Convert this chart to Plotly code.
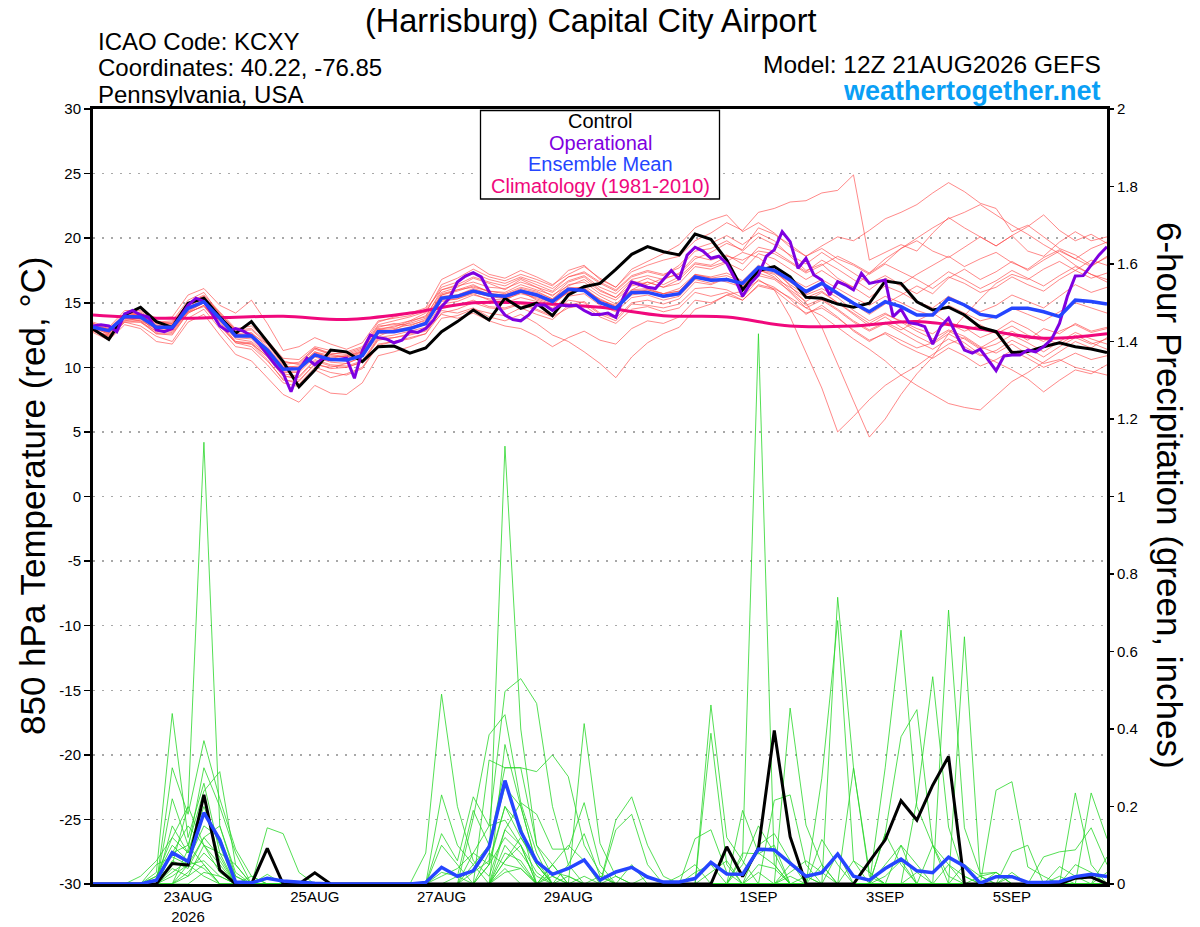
import plotly.graph_objects as go
import pandas as pd

# ---------------- time axes ----------------
T_START = "2026-08-21 12:00"
T_END = "2026-09-06 12:00"
times_6h = pd.date_range(T_START, periods=65, freq="6h")
times_3h = pd.date_range(T_START, periods=129, freq="3h")
times_clim = pd.date_range(T_START, periods=17, freq="24h")

tick_dates = ["2026-08-23", "2026-08-25", "2026-08-27", "2026-08-29",
              "2026-09-01", "2026-09-03", "2026-09-05"]
tick_labels = ["23AUG<br>2026", "25AUG", "27AUG", "29AUG", "1SEP", "3SEP", "5SEP"]

temp_ticks = [-30, -25, -20, -15, -10, -5, 0, 5, 10, 15, 20, 25, 30]
temp_tick_labels = ["-30", "-25", "-20", "-15", "-10", "-5", "0", "5", "10", "15", "20", "25", "30"]
prcp_ticks = [0, 0.2, 0.4, 0.6, 0.8, 1.0, 1.2, 1.4, 1.6, 1.8, 2.0]
prcp_tick_labels = ["0", "0.2", "0.4", "0.6", "0.8", "1", "1.2", "1.4", "1.6", "1.8", "2"]

# ---------------- 850 hPa temperature (deg C) ----------------
control_temp = [12.97, 12.17, 14.05, 14.65, 13.54, 13.1, 14.96, 15.35, 13.9, 12.63, 13.54, 11.99, 10.44,
                8.5, 9.8, 11.34, 11.2, 10.44, 11.6, 11.65, 11.1, 11.5, 12.76, 13.54, 14.44, 13.67,
                15.35, 14.57, 14.96, 14.0, 15.6, 16.24, 16.5, 17.59, 18.75, 19.34, 18.95, 18.7, 20.32,
                19.91, 18.3, 16.0, 17.5, 17.8, 17.0, 15.42, 15.35, 14.9, 14.65, 14.96, 16.68, 16.5,
                15.08, 14.44, 14.65, 14.05, 13.1, 12.76, 11.14, 11.22, 11.6, 11.9, 11.6, 11.42, 11.14]

mean_temp = [13.1, 12.84, 13.93, 13.9, 13.1, 13.1, 14.57, 15.08, 13.8, 12.43, 12.43, 11.34, 9.85,
             9.9, 10.96, 10.6, 10.56, 10.9, 12.76, 12.76, 13.0, 13.4, 15.35, 15.5, 15.9, 15.6,
             15.5, 15.9, 15.6, 15.1, 16.04, 15.95, 15.0, 14.57, 15.8, 15.8, 15.5, 15.7, 17.0,
             16.75, 16.8, 16.5, 17.74, 17.5, 16.76, 15.86, 16.5, 15.7, 14.96, 14.3, 15.08, 14.7,
             14.05, 14.05, 15.35, 14.83, 14.1, 13.9, 14.57, 14.57, 14.3, 13.93, 15.2, 15.1, 14.9]

operational_temp = [13.2, 13.3, 13.2, 12.76, 14.13, 14.4, 14.05, 13.9, 12.9, 12.76, 13.0, 13.9, 14.8,
                    15.35, 15.1, 14.2, 13.2, 12.8, 13.0, 12.8, 12.43, 11.8, 10.96, 10.2, 9.54, 8.11,
                    9.8, 10.7, 10.2, 10.7, 10.6, 10.6, 10.7, 9.15, 11.3, 12.5, 12.3, 12.2, 11.9,
                    12.1, 12.8, 12.7, 13.0, 13.67, 14.7, 15.35, 16.6, 17.07, 17.33, 17.0, 15.86, 14.83,
                    14.05, 13.7, 13.6, 14.05, 14.83, 14.83, 14.4, 14.83, 14.75, 14.8, 14.4, 14.1,
                    14.1, 14.2, 13.87, 15.5, 16.6, 16.4, 16.2, 16.1, 16.8, 17.5, 16.8, 18.7, 19.3,
                    19.0, 18.44, 18.6, 18.05, 16.9, 15.5, 16.5, 17.15, 18.6, 19.1, 20.5, 19.73, 17.67,
                    18.44, 17.15, 16.76, 15.6, 16.63, 16.37, 15.99, 17.28, 16.5, 16.63, 16.76, 13.93,
                    14.5, 13.46, 13.36, 13.15, 11.8, 13.15, 13.8, 12.5, 11.34, 11.1, 11.4, 10.57, 9.74,
                    10.88, 10.96, 10.96, 11.34, 11.2, 11.6, 12.17, 13.4, 15.5, 17.07, 17.1, 17.9,
                    18.7, 19.34]

climatology_temp = [14.05, 13.8, 13.85, 13.95, 13.7, 14.2, 15.0, 14.95, 14.65, 14.0, 13.9,
                    13.2, 13.2, 13.55, 12.95, 12.25, 12.6]

temp_m01 = [13.3, 12.6, 14.2, 14.0, 13.5, 13.6, 15.2, 15.8, 14.1, 12.9, 12.6, 11.8, 10.5,
            10.2, 11.4, 11.0, 11.2, 11.6, 13.5, 13.9, 14.2, 14.6, 16.8, 17.4, 18.0, 17.2,
            16.9, 17.5, 17.0, 16.4, 17.2, 17.8, 16.9, 16.2, 17.4, 17.9, 18.3, 18.6, 19.8,
            20.4, 21.2, 20.6, 22.0, 22.3, 22.8, 22.9, 23.5, 23.7, 24.9, 18.3, 18.9, 19.5,
            19.0, 20.4, 21.6, 20.8, 20.1, 19.4, 20.2, 19.0, 18.6, 19.7, 20.5, 19.8, 20.1]
temp_m02 = [12.9, 12.4, 13.6, 13.5, 12.8, 12.7, 14.3, 15.0, 13.5, 12.0, 11.8, 10.9, 9.4,
            9.0, 10.2, 10.0, 10.3, 10.8, 12.4, 12.9, 13.5, 14.0, 15.8, 16.2, 16.9, 16.5,
            16.0, 16.8, 16.2, 15.5, 16.6, 17.0, 16.0, 15.4, 16.7, 16.4, 16.9, 17.2, 18.4,
            18.9, 19.6, 19.1, 20.8, 20.3, 19.5, 18.6, 19.4, 20.1, 19.8, 20.6, 21.5, 22.0,
            22.6, 23.5, 24.3, 23.6, 22.7, 22.3, 20.5, 21.0, 20.1, 19.2, 18.7, 17.9, 18.5]
temp_m03 = [13.0, 12.2, 13.5, 13.2, 12.4, 12.0, 13.8, 14.5, 13.0, 11.6, 11.4, 10.2, 8.8,
            8.5, 9.8, 9.2, 9.5, 10.0, 11.8, 12.0, 12.3, 12.6, 14.6, 14.8, 15.2, 14.7,
            14.6, 15.0, 14.5, 14.0, 15.2, 15.0, 14.1, 13.6, 14.9, 14.8, 14.6, 14.9, 16.1,
            16.2, 16.0, 15.4, 16.8, 16.0, 13.9, 11.2, 8.4, 5.0, 6.2, 7.5, 8.6, 9.4,
            10.1, 11.0, 11.8, 12.3, 11.5, 12.2, 12.8, 12.1, 13.0, 12.6, 13.4, 12.8, 13.1]
temp_m04 = [13.4, 12.9, 14.1, 14.3, 13.6, 13.3, 14.9, 15.4, 14.2, 12.8, 12.9, 11.8, 10.2,
            10.4, 11.5, 11.0, 10.8, 11.2, 12.9, 13.2, 13.4, 13.8, 15.6, 16.0, 16.4, 15.8,
            15.3, 15.9, 15.2, 14.8, 15.9, 16.3, 15.5, 14.9, 16.0, 16.6, 16.2, 16.8, 18.0,
            17.8, 18.2, 18.9, 18.5, 17.6, 16.3, 15.0, 13.1, 10.2, 7.4, 4.6, 6.0, 7.9,
            9.5, 10.8, 12.6, 14.0, 15.3, 16.5, 17.2, 16.8, 17.6, 18.2, 17.5, 18.3, 17.9]
temp_m05 = [13.2, 13.0, 14.0, 14.1, 13.3, 13.2, 14.8, 15.3, 14.0, 12.6, 12.7, 11.6, 10.1,
            10.0, 11.2, 10.9, 10.8, 11.1, 13.0, 13.1, 13.6, 14.2, 16.4, 16.9, 17.6, 17.0,
            16.7, 17.2, 16.8, 16.3, 17.5, 17.9, 16.8, 16.2, 17.6, 18.2, 18.8, 19.5, 20.8,
            21.4, 21.8, 20.5, 21.2, 20.4, 19.3, 18.6, 19.2, 18.4, 17.9, 17.2, 18.0, 17.4,
            16.8, 16.1, 17.0, 16.5, 15.8, 16.2, 17.0, 16.4, 15.9, 16.8, 17.5, 16.9, 17.3]
temp_m06 = [12.8, 12.3, 13.7, 13.6, 12.6, 12.5, 14.2, 14.8, 13.2, 11.9, 11.8, 10.6, 9.0,
            8.9, 10.3, 9.9, 10.0, 10.4, 12.1, 12.3, 12.5, 12.8, 14.4, 14.2, 14.6, 13.9,
            13.6, 14.1, 13.4, 12.5, 12.0, 11.2, 10.3, 9.2, 10.8, 11.9, 12.6, 13.1, 14.5,
            14.9, 15.6, 15.9, 16.7, 16.2, 15.3, 14.1, 14.8, 13.9, 12.8, 12.0, 12.7, 12.1,
            11.5, 11.9, 12.8, 12.2, 11.4, 11.8, 12.5, 11.9, 11.2, 12.0, 12.7, 12.2, 11.8]
temp_m07 = [12.7, 12.1, 13.3, 13.0, 12.0, 11.8, 13.5, 14.1, 12.5, 11.0, 10.5, 9.2, 7.9,
            7.3, 8.6, 8.0, 7.9, 8.8, 10.9, 11.2, 11.6, 12.1, 13.8, 14.0, 14.5, 14.2,
            14.0, 14.6, 14.1, 13.7, 14.8, 15.1, 14.2, 13.8, 15.0, 15.2, 14.9, 15.3, 16.6,
            16.4, 16.9, 16.3, 17.5, 17.2, 16.0, 15.1, 15.8, 15.0, 14.2, 13.4, 14.1, 13.6,
            13.0, 12.6, 13.5, 13.1, 12.3, 12.8, 13.6, 13.0, 12.2, 11.8, 12.5, 11.9, 11.4]
temp_m08 = [13.5, 13.1, 14.4, 14.4, 13.8, 13.9, 15.6, 16.1, 14.8, 14.2, 15.2, 13.4, 11.3,
            11.6, 12.3, 11.8, 11.4, 11.9, 13.6, 13.8, 14.0, 14.5, 16.0, 16.4, 17.0, 16.6,
            16.3, 16.9, 16.4, 15.9, 17.0, 17.3, 16.5, 15.9, 17.0, 17.4, 17.1, 17.9, 19.2,
            19.6, 20.2, 19.5, 20.4, 19.8, 18.6, 17.5, 18.0, 16.9, 16.2, 15.4, 16.3, 15.8,
            15.1, 14.6, 15.5, 14.9, 14.3, 14.8, 15.6, 15.1, 14.6, 15.5, 16.4, 15.8, 16.2]
temp_m09 = [13.1, 12.9, 13.8, 14.0, 13.0, 13.0, 14.5, 15.0, 13.7, 12.3, 12.2, 11.0, 9.6,
            9.6, 10.8, 10.4, 10.3, 10.8, 12.6, 12.7, 12.9, 13.4, 15.2, 15.3, 15.7, 15.2,
            15.0, 15.4, 15.1, 14.6, 15.5, 15.7, 14.8, 14.3, 15.4, 15.6, 15.2, 15.5, 16.8,
            16.5, 16.9, 16.1, 17.3, 16.9, 16.2, 15.4, 15.9, 15.0, 14.1, 13.2, 13.9, 13.1,
            12.4, 11.8, 12.6, 11.9, 11.0, 10.4, 9.8, 9.1, 8.1, 9.0, 9.8, 9.5, 10.2]
temp_m10 = [13.0, 12.7, 13.9, 13.8, 13.2, 13.4, 14.9, 15.5, 14.0, 12.6, 12.4, 11.5, 10.0,
            10.1, 11.2, 10.7, 10.9, 11.3, 13.1, 13.4, 13.2, 13.7, 15.7, 16.0, 16.2, 15.9,
            15.8, 16.4, 16.0, 15.6, 16.3, 16.8, 15.9, 15.4, 16.4, 16.9, 16.4, 17.0, 18.1,
            17.9, 18.6, 18.3, 19.0, 18.8, 18.1, 17.3, 17.9, 18.6, 18.0, 17.3, 18.4, 19.2,
            19.8, 19.0, 18.5, 19.3, 20.1, 19.4, 20.2, 20.9, 21.8, 20.6, 19.8, 20.3, 19.6]
temp_m11 = [13.2, 12.5, 13.9, 13.7, 12.9, 12.8, 14.4, 15.0, 13.6, 12.2, 12.0, 11.0, 9.5,
            9.3, 10.6, 10.2, 10.1, 10.5, 12.3, 12.5, 12.8, 13.1, 14.9, 15.1, 15.6, 15.3,
            15.2, 15.8, 15.3, 14.9, 15.8, 16.0, 15.3, 14.7, 15.7, 16.0, 15.7, 16.1, 17.2,
            17.0, 17.3, 16.7, 17.9, 17.4, 16.4, 15.6, 16.1, 15.4, 14.4, 13.6, 14.2, 13.5,
            12.8, 12.2, 12.9, 12.4, 11.6, 11.1, 11.8, 11.0, 10.3, 10.6, 10.0, 9.7, 9.4]
temp_m12 = [13.3, 12.8, 14.0, 13.9, 13.1, 13.0, 14.6, 15.2, 13.9, 12.5, 12.6, 11.4, 10.0,
            9.8, 11.0, 10.7, 10.6, 11.0, 12.8, 12.9, 13.1, 13.5, 15.4, 15.6, 16.0, 15.7,
            15.6, 16.0, 15.7, 15.2, 16.1, 16.2, 15.2, 14.8, 15.9, 16.0, 15.7, 15.9, 17.1,
            16.9, 17.1, 16.6, 17.6, 17.0, 15.8, 14.6, 14.0, 13.1, 12.2, 11.4, 10.5, 9.4,
            8.6, 7.9, 7.2, 6.9, 6.7, 7.8, 8.9, 9.6, 10.4, 11.2, 12.0, 11.5, 12.3]
temp_m13 = [13.0, 12.9, 14.1, 14.2, 13.4, 13.5, 15.0, 15.6, 14.3, 13.0, 13.2, 12.1, 10.7,
            10.6, 11.6, 11.3, 11.1, 11.5, 13.3, 13.6, 13.9, 14.3, 16.2, 16.6, 17.3, 16.8,
            16.5, 17.0, 16.6, 16.1, 17.0, 17.4, 16.6, 16.0, 17.1, 17.5, 17.2, 17.7, 19.0,
            19.2, 19.8, 19.0, 20.1, 19.5, 18.7, 18.0, 18.9, 18.1, 17.3, 16.5, 17.1, 16.4,
            17.2, 17.9, 18.6, 17.8, 18.4, 18.9, 18.1, 17.6, 18.5, 19.1, 18.4, 17.8, 18.6]
temp_m14 = [12.9, 12.4, 13.6, 13.8, 12.7, 12.9, 14.3, 14.7, 13.3, 11.9, 11.6, 10.5, 9.1,
            8.7, 10.0, 9.6, 9.4, 9.9, 11.7, 12.0, 12.2, 12.6, 14.2, 14.5, 15.0, 14.6,
            14.5, 14.9, 14.4, 13.9, 14.6, 14.8, 13.9, 13.4, 14.5, 14.7, 14.3, 14.6, 15.8,
            15.5, 15.8, 15.2, 16.3, 16.0, 15.0, 14.2, 14.6, 13.8, 12.9, 12.1, 12.6, 11.8,
            11.2, 10.7, 11.5, 10.9, 10.1, 10.6, 11.3, 10.7, 10.0, 10.5, 11.1, 10.6, 10.9]
temp_m15 = [13.1, 12.7, 13.8, 13.6, 13.0, 12.9, 14.5, 15.0, 13.7, 12.4, 12.3, 11.1, 9.7,
            9.7, 10.9, 10.5, 10.6, 11.0, 12.7, 12.8, 13.0, 13.3, 15.1, 15.3, 15.8, 15.5,
            15.3, 15.7, 15.4, 15.0, 15.8, 16.1, 15.1, 14.6, 15.6, 15.8, 15.4, 15.6, 16.9,
            16.7, 16.9, 16.3, 17.4, 17.6, 16.9, 16.2, 16.8, 16.1, 15.4, 14.8, 15.5, 15.0,
            14.4, 14.0, 14.8, 14.2, 13.6, 13.9, 14.6, 14.1, 13.6, 14.3, 15.0, 14.6, 14.2]
temp_m16 = [13.2, 12.9, 14.0, 14.0, 13.2, 13.1, 14.7, 15.2, 13.9, 12.5, 12.4, 11.3, 9.8,
            9.9, 11.1, 10.6, 10.5, 10.9, 12.7, 12.8, 13.0, 13.4, 15.3, 15.4, 15.8, 15.5,
            15.4, 15.8, 15.5, 15.0, 15.9, 16.0, 15.0, 14.5, 15.7, 15.8, 15.5, 15.7, 17.0,
            16.8, 16.8, 16.4, 17.6, 17.3, 16.6, 15.7, 16.4, 15.6, 14.9, 14.1, 14.9, 15.6,
            16.3, 15.7, 16.9, 17.6, 16.8, 17.4, 18.2, 17.5, 18.3, 19.0, 18.4, 19.2, 19.7]
temp_m17 = [13.0, 12.6, 13.9, 13.9, 13.0, 13.2, 14.6, 15.1, 13.8, 12.4, 12.5, 11.4, 9.9,
            10.0, 11.0, 10.6, 10.7, 11.0, 12.8, 12.7, 13.1, 13.3, 15.5, 15.6, 16.1, 15.7,
            15.6, 16.1, 15.8, 15.3, 16.2, 16.1, 15.2, 14.7, 16.0, 16.1, 15.7, 15.9, 17.2,
            16.9, 16.6, 16.2, 17.1, 16.8, 15.9, 14.8, 15.3, 14.5, 13.6, 12.9, 13.5, 12.9,
            13.6, 14.2, 13.4, 12.8, 13.3, 12.6, 13.2, 12.5, 12.0, 12.8, 13.3, 12.7, 13.0]
temp_m18 = [13.4, 13.0, 14.2, 14.2, 13.5, 13.4, 15.0, 15.5, 14.2, 12.9, 13.0, 11.9, 10.4,
            10.3, 11.5, 11.1, 11.0, 11.4, 13.2, 13.3, 13.6, 13.9, 16.0, 16.3, 16.6, 16.2,
            16.1, 16.6, 16.2, 15.8, 16.7, 17.1, 16.2, 15.7, 16.8, 17.1, 16.8, 17.3, 18.6,
            18.3, 18.7, 18.0, 19.3, 19.0, 18.2, 17.4, 18.3, 17.6, 16.8, 16.0, 16.9, 16.3,
            15.7, 16.5, 17.4, 16.8, 16.1, 16.7, 17.5, 16.9, 16.3, 17.1, 17.8, 17.2, 16.8]
temp_m19 = [12.8, 12.5, 13.5, 13.5, 12.6, 12.6, 14.2, 14.8, 13.3, 12.0, 11.9, 10.8, 9.3,
            9.2, 10.5, 10.1, 10.0, 10.4, 12.2, 12.3, 12.6, 12.9, 14.1, 13.8, 14.2, 13.6,
            13.2, 13.0, 12.4, 11.6, 12.3, 12.8, 12.1, 11.8, 13.0, 13.6, 13.4, 13.9, 15.2,
            15.0, 15.6, 15.2, 16.4, 16.1, 15.4, 14.6, 15.2, 14.4, 13.5, 12.8, 13.4, 12.7,
            12.0, 11.4, 12.2, 11.6, 10.9, 11.3, 12.1, 11.5, 10.8, 11.6, 12.3, 11.8, 12.2]
temp_m20 = [13.2, 12.8, 14.0, 14.1, 13.2, 13.0, 14.6, 15.1, 13.9, 12.5, 12.4, 11.4, 10.0,
            9.9, 11.1, 10.8, 10.9, 11.2, 12.9, 13.0, 13.3, 13.6, 15.6, 15.9, 16.3, 15.9,
            15.7, 16.2, 15.9, 15.3, 16.4, 16.6, 15.7, 15.2, 16.3, 16.6, 16.2, 16.5, 17.8,
            17.6, 18.1, 17.5, 18.8, 18.4, 17.6, 16.8, 17.5, 16.7, 16.2, 17.3, 18.1, 19.2,
            20.0, 20.8, 21.5, 22.0, 22.6, 21.8, 21.0, 20.3, 19.5, 18.8, 17.9, 17.2, 16.6]

temp_members = [temp_m01, temp_m02, temp_m03, temp_m04, temp_m05, temp_m06, temp_m07,
                temp_m08, temp_m09, temp_m10, temp_m11, temp_m12, temp_m13, temp_m14,
                temp_m15, temp_m16, temp_m17, temp_m18, temp_m19, temp_m20]

# ---------------- 6-hour precipitation (inches) ----------------
control_prcp = [0, 0, 0, 0, 0, 0.053, 0.049, 0.23, 0.036, 0, 0, 0.092, 0,
                0, 0.029, 0, 0, 0, 0, 0, 0, 0, 0, 0, 0, 0,
                0, 0, 0, 0, 0, 0, 0, 0, 0, 0, 0, 0, 0,
                0, 0.096, 0.019, 0.092, 0.396, 0.122, 0, 0, 0, 0, 0.058, 0.114, 0.215,
                0.165, 0.255, 0.329, 0, 0, 0, 0, 0, 0, 0, 0.015, 0.018, 0]

mean_prcp = [0, 0, 0, 0, 0.01, 0.081, 0.058, 0.184, 0.114, 0.005, 0.003, 0.015, 0.008,
             0.004, 0.002, 0, 0, 0, 0, 0, 0, 0.004, 0.043, 0.02, 0.034, 0.096,
             0.267, 0.135, 0.058, 0.025, 0.04, 0.062, 0.01, 0.031, 0.043, 0.018, 0.005, 0.005, 0.014,
             0.056, 0.026, 0.025, 0.09, 0.088, 0.053, 0.02, 0.029, 0.077, 0.02, 0.01, 0.04, 0.064,
             0.034, 0.029, 0.069, 0.046, 0.002, 0.019, 0.019, 0.004, 0.004, 0.006, 0.019, 0.025, 0.019]

# members: non-zero 6-h totals keyed by 6-hour step (all other steps are 0)
prcp_m01 = {3: 0.02, 4: 0.06, 5: 0.12, 6: 0.2, 7: 1.14, 8: 0.15, 9: 0.02, 22: 0.23, 23: 0.1, 24: 0.05,
            26: 0.36, 27: 0.2, 28: 0.05, 44: 0.05, 45: 0.02, 51: 0.1, 52: 0.05}
prcp_m02 = {4: 0.03, 5: 0.44, 6: 0.12, 7: 0.26, 8: 0.08, 21: 0.08, 22: 0.49, 23: 0.2, 24: 0.06, 25: 0.02,
            26: 0.14, 27: 0.1, 29: 0.02, 42: 0.1, 43: 0.13, 44: 0.06, 58: 0.03}
prcp_m03 = {5: 0.3, 6: 0.18, 7: 0.37, 8: 0.22, 9: 0.09, 10: 0.02, 25: 0.05, 26: 1.13, 27: 0.4, 28: 0.1,
            29: 0.05, 31: 0.02, 41: 0.19, 42: 0.08, 43: 0.05, 47: 0.74, 48: 0.3, 49: 0.03, 57: 0.03}
prcp_m04 = {5: 0.22, 6: 0.1, 7: 0.24, 8: 0.29, 9: 0.05, 24: 0.08, 25: 0.15, 26: 0.497, 27: 0.53,
            28: 0.466, 29: 0.2, 30: 0.05, 33: 0.02, 41: 0.07, 42: 1.42, 43: 0.05, 50: 0.02, 51: 0.06}
prcp_m05 = {5: 0.15, 6: 0.08, 7: 0.2, 8: 0.1, 11: 0.145, 12: 0.13, 13: 0.03, 24: 0.17, 25: 0.385,
            26: 0.437, 27: 0.21, 28: 0.08, 30: 0.02, 44: 0.454, 45: 0.152, 46: 0.05, 54: 0.05, 55: 0.02}
prcp_m06 = {6: 0.05, 7: 0.12, 8: 0.07, 11: 0.025, 25: 0.32, 26: 0.3, 27: 0.3, 28: 0.29, 29: 0.333,
            30: 0.277, 31: 0.1, 32: 0.03, 46: 0.273, 47: 0.68, 48: 0.06, 50: 0.3, 51: 0.655, 52: 0.2, 53: 0.1}
prcp_m07 = {4: 0.02, 5: 0.1, 6: 0.06, 7: 0.15, 8: 0.12, 9: 0.02, 22: 0.13, 23: 0.06, 24: 0.225, 25: 0.15,
            26: 0.165, 27: 0.1, 31: 0.414, 32: 0.105, 33: 0.02, 39: 0.462, 40: 0.12, 41: 0.06,
            52: 0.216, 53: 0.535, 54: 0.147, 55: 0.02}
prcp_m08 = {5: 0.08, 6: 0.15, 7: 0.1, 8: 0.05, 26: 0.14, 27: 0.21, 28: 0.18, 29: 0.09, 30: 0.09,
            31: 0.21, 32: 0.05, 39: 0.389, 40: 0.05, 54: 0.707, 55: 0.145, 56: 0.027, 57: 0.03}
prcp_m09 = {6: 0.03, 7: 0.08, 8: 0.04, 26: 0.1, 27: 0.05, 33: 0.165, 34: 0.225, 35: 0.1, 36: 0.02,
            46: 0.115, 47: 0.05, 50: 0.13, 51: 0.38, 52: 0.45, 53: 0.1, 54: 0.02}
prcp_m10 = {5: 0.05, 6: 0.2, 7: 0.1, 8: 0.03, 23: 0.02, 24: 0.19, 25: 0.1, 26: 0.3, 27: 0.3, 28: 0.1,
            29: 0.02, 33: 0.14, 34: 0.18, 35: 0.05, 55: 0.638, 56: 0.02, 62: 0.235, 63: 0.05}
prcp_m11 = {4: 0.05, 5: 0.07, 6: 0.05, 7: 0.06, 8: 0.02, 26: 0.06, 27: 0.12, 28: 0.05, 38: 0.117,
            39: 0.14, 40: 0.03, 43: 0.216, 44: 0.23, 45: 0.05, 57: 0.242, 58: 0.264, 59: 0.044, 60: 0.02}
prcp_m12 = {5: 0.04, 6: 0.02, 7: 0.05, 22: 0.03, 23: 0.02, 26: 0.04, 29: 0.03, 30: 0.02, 46: 0.05,
            48: 0.3, 49: 0.02, 58: 0.083, 59: 0.1, 63: 0.235, 64: 0.117}
prcp_m13 = {6: 0.09, 7: 0.3, 8: 0.2, 9: 0.08, 25: 0.05, 26: 0.2, 27: 0.15, 32: 0.02, 35: 0.02,
            41: 0.05, 42: 0.15, 43: 0.08, 60: 0.07, 61: 0.083, 62: 0.088, 63: 0.145, 64: 0.05}
prcp_m14 = {5: 0.06, 6: 0.04, 7: 0.12, 8: 0.15, 9: 0.03, 24: 0.05, 25: 0.1, 26: 0.25, 27: 0.2, 28: 0.05,
            37: 0.02, 38: 0.05, 41: 0.08, 42: 0.078, 43: 0.1, 50: 0.05, 51: 0.1, 61: 0.045, 62: 0.02, 64: 0.07}
prcp_m15 = {5: 0.02, 6: 0.05, 7: 0.02, 10: 0.02, 22: 0.02, 23: 0.04, 24: 0.08, 25: 0.05, 26: 0.12,
            27: 0.08, 28: 0.02, 30: 0.05, 31: 0.13, 32: 0.02, 48: 0.06, 49: 0.03, 53: 0.1, 54: 0.05}
prcp_m16 = {4: 0.02, 5: 0.12, 6: 0.08, 7: 0.22, 8: 0.06, 25: 0.08, 26: 0.05, 27: 0.04, 29: 0.05,
            34: 0.05, 44: 0.03, 45: 0.06, 46: 0.03, 56: 0.02, 57: 0.03, 64: 0.03}
prcp_m17 = {5: 0.03, 6: 0.06, 7: 0.04, 24: 0.03, 25: 0.06, 26: 0.2, 27: 0.12, 28: 0.06, 38: 0.03,
            39: 0.05, 42: 0.05, 43: 0.04, 47: 0.08, 61: 0.02}
prcp_m18 = {6: 0.02, 7: 0.1, 8: 0.08, 9: 0.05, 26: 0.08, 27: 0.06, 29: 0.05, 30: 0.1, 31: 0.06,
            50: 0.13, 51: 0.05, 58: 0.02}
prcp_m19 = {5: 0.08, 6: 0.1, 7: 0.05, 22: 0.1, 23: 0.05, 26: 0.06, 27: 0.1, 28: 0.03, 39: 0.03,
            40: 0.06, 45: 0.02, 52: 0.03, 62: 0.05, 63: 0.03}
prcp_m20 = {7: 0.03, 8: 0.02, 26: 0.03, 27: 0.04, 42: 0.03, 44: 0.02, 55: 0.05, 56: 0.02}

prcp_members = [prcp_m01, prcp_m02, prcp_m03, prcp_m04, prcp_m05, prcp_m06, prcp_m07,
                prcp_m08, prcp_m09, prcp_m10, prcp_m11, prcp_m12, prcp_m13, prcp_m14,
                prcp_m15, prcp_m16, prcp_m17, prcp_m18, prcp_m19, prcp_m20]

# ---------------- styling ----------------
FONT = "Liberation Sans, Arial, Helvetica, sans-serif"
RED = "rgba(255,70,70,0.8)"
GREEN = "rgb(40,215,40)"
BLACK = "#000000"
PURPLE = "#7f00e0"
BLUE = "#2545ff"
PINK = "#f0087c"
SITE_BLUE = "#0a9ff5"

FIG_W, FIG_H = 1200, 927
# plot area in pixels
PL, PR, PT, PB = 93, 1107, 109, 884


def px(x):
    return (x - PL) / (PR - PL)


def py(y):
    return (PB - y) / (PB - PT)


fig = go.Figure()

for m in temp_members:
    fig.add_trace(go.Scatter(x=times_6h, y=m, mode="lines", yaxis="y",
                             line=dict(color=RED, width=0.8), hoverinfo="skip"))

for m in prcp_members:
    vals = [m.get(i, 0.0) for i in range(len(times_6h))]
    fig.add_trace(go.Scatter(x=times_6h, y=vals, mode="lines", yaxis="y2",
                             line=dict(color=GREEN, width=0.8), hoverinfo="skip"))

fig.add_trace(go.Scatter(x=times_clim, y=climatology_temp, mode="lines", yaxis="y",
                         line=dict(color=PINK, width=3, shape="spline", smoothing=1.0), hoverinfo="skip"))
fig.add_trace(go.Scatter(x=times_6h, y=control_temp, mode="lines", yaxis="y",
                         line=dict(color=BLACK, width=3), hoverinfo="skip"))
fig.add_trace(go.Scatter(x=times_3h, y=operational_temp, mode="lines", yaxis="y",
                         line=dict(color=PURPLE, width=3), hoverinfo="skip"))
fig.add_trace(go.Scatter(x=times_6h, y=mean_temp, mode="lines", yaxis="y",
                         line=dict(color=BLUE, width=3.5), hoverinfo="skip"))
fig.add_trace(go.Scatter(x=times_6h, y=control_prcp, mode="lines", yaxis="y2",
                         line=dict(color=BLACK, width=3), hoverinfo="skip"))
fig.add_trace(go.Scatter(x=times_6h, y=mean_prcp, mode="lines", yaxis="y2",
                         line=dict(color=BLUE, width=3.5), hoverinfo="skip"))

fig.update_layout(
    width=FIG_W, height=FIG_H,
    margin=dict(l=PL, r=FIG_W - PR, t=PT, b=FIG_H - PB, pad=0),
    paper_bgcolor="white", plot_bgcolor="white",
    showlegend=False,
    font=dict(family=FONT, color="black", size=15),
    xaxis=dict(type="date", range=[T_START, T_END], automargin=False,
               tickvals=tick_dates, ticktext=tick_labels,
               ticks="", ticklabelstandoff=-3,
               tickfont=dict(size=15, family=FONT),
               showgrid=False, zeroline=False,
               showline=True, linewidth=3, linecolor="black", mirror=True),
    yaxis=dict(range=[-30, 30], tickvals=temp_ticks, ticktext=temp_tick_labels, automargin=False,
               ticks="outside", ticklen=6, tickwidth=1.5, tickcolor="black",
               tickfont=dict(size=15, family=FONT),
               showgrid=True, gridcolor="#a8a8a8", gridwidth=1.5, griddash="2px,7px",
               zeroline=False,
               showline=True, linewidth=3, linecolor="black", mirror=True),
    yaxis2=dict(range=[0, 2], overlaying="y", side="right", automargin=False,
                tickvals=prcp_ticks, ticktext=prcp_tick_labels,
                ticks="outside", ticklen=6, tickwidth=1.5, tickcolor="black",
                tickfont=dict(size=15, family=FONT),
                showgrid=False, zeroline=False, showline=False),
)

annotations = [
    dict(text="(Harrisburg) Capital City Airport", x=px(591), y=py(21), xanchor="center",
         yanchor="middle", font=dict(size=32.5, family=FONT, color="black")),
    dict(text="ICAO Code: KCXY", x=px(96), y=py(41), xanchor="left", yanchor="middle",
         font=dict(size=24, family=FONT, color="black")),
    dict(text="Coordinates: 40.22, -76.85", x=px(96), y=py(67), xanchor="left", yanchor="middle",
         font=dict(size=24, family=FONT, color="black")),
    dict(text="Pennsylvania, USA", x=px(96), y=py(94), xanchor="left", yanchor="middle",
         font=dict(size=24, family=FONT, color="black")),
    dict(text="Model: 12Z 21AUG2026 GEFS", x=px(1103), y=py(65), xanchor="right", yanchor="middle",
         font=dict(size=24.5, family=FONT, color="black")),
    dict(text="<b>weathertogether.net</b>", x=px(1103), y=py(91), xanchor="right", yanchor="middle",
         font=dict(size=27, family=FONT, color=SITE_BLUE)),
    dict(text="850 hPa Temperature (red, °C)", x=px(32), y=py(496), xanchor="center",
         yanchor="middle", textangle=-90, font=dict(size=35, family=FONT, color="black")),
    dict(text="6-hour Precipitation (green, inches)", x=px(1170), y=py(495), xanchor="center",
         yanchor="middle", textangle=90, font=dict(size=35, family=FONT, color="black")),
    dict(text="Control", x=px(600), y=py(121), xanchor="center", yanchor="middle",
         font=dict(size=20, family=FONT, color=BLACK)),
    dict(text="Operational", x=px(600), y=py(143), xanchor="center", yanchor="middle",
         font=dict(size=20, family=FONT, color=PURPLE)),
    dict(text="Ensemble Mean", x=px(600), y=py(164), xanchor="center", yanchor="middle",
         font=dict(size=20, family=FONT, color=BLUE)),
    dict(text="Climatology (1981-2010)", x=px(600), y=py(186), xanchor="center", yanchor="middle",
         font=dict(size=20, family=FONT, color=PINK)),
]
for a in annotations:
    a.update(xref="paper", yref="paper", showarrow=False)
fig.update_layout(annotations=annotations)

fig.add_shape(type="rect", xref="paper", yref="paper",
              x0=px(480.5), x1=px(719.5), y0=py(199), y1=py(110.5),
              fillcolor="white", line=dict(color="black", width=1.3), layer="above")

# remove the default 8px page margin so the figure sits at the window origin
fig.write_html("out.html",
               config={"displayModeBar": False, "staticPlot": True},
               post_script="document.body.style.margin='0px';document.body.style.overflow='hidden';")
